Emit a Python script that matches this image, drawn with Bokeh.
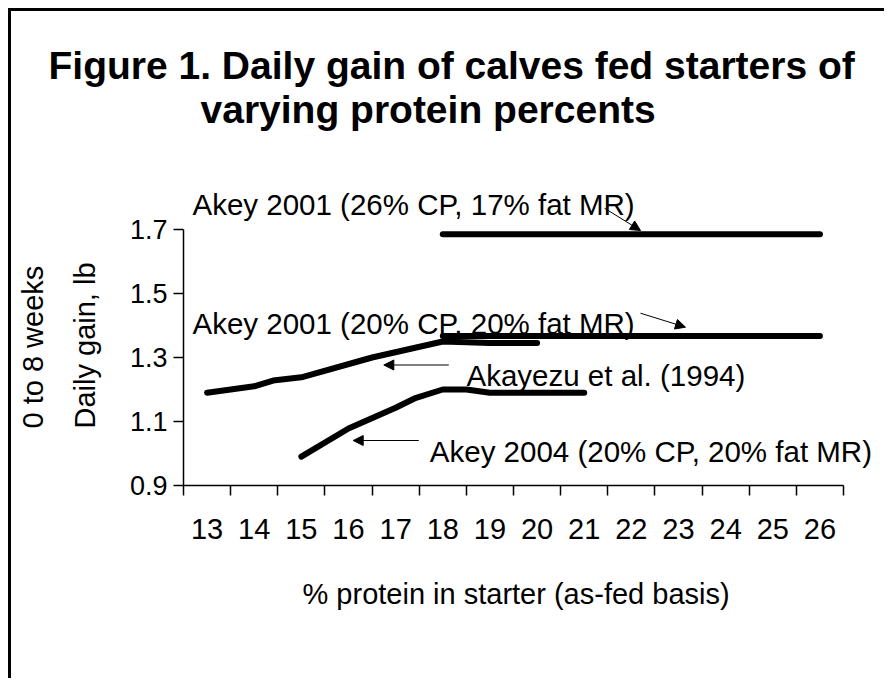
from bokeh.plotting import figure
from bokeh.models import FixedTicker, Label, Arrow, NormalHead, ColumnDataSource, Title
from bokeh.embed import file_html
from bokeh.resources import INLINE

# ---------------- data ----------------
categories = [13, 14, 15, 16, 17, 18, 19, 20, 21, 22, 23, 24, 25, 26]
x_tick_labels = ["13", "14", "15", "16", "17", "18", "19", "20", "21", "22", "23", "24", "25", "26"]
y_ticks = [0.9, 1.1, 1.3, 1.5, 1.7]
y_tick_labels = ["0.9", "1.1", "1.3", "1.5", "1.7"]

akey2001_26_x = [18, 19, 20, 21, 22, 23, 24, 25, 26]
akey2001_26_y = [1.685, 1.685, 1.685, 1.685, 1.685, 1.685, 1.685, 1.685, 1.685]

akey2001_20_x = [18, 19, 20, 21, 22, 23, 24, 25, 26]
akey2001_20_y = [1.367, 1.367, 1.367, 1.367, 1.367, 1.367, 1.367, 1.367, 1.367]

akayezu_x = [13, 14, 14.4, 15, 16.5, 18, 19, 20]
akayezu_y = [1.19, 1.21, 1.228, 1.238, 1.30, 1.35, 1.345, 1.345]

akey2004_x = [15, 16, 17, 17.4, 18, 18.5, 19, 20, 21]
akey2004_y = [0.99, 1.078, 1.143, 1.172, 1.20, 1.20, 1.19, 1.19, 1.19]

series_names = [
    "Akey 2001 (26% CP, 17% fat MR)",
    "Akey 2001 (20% CP, 20% fat MR)",
    "Akayezu et al. (1994)",
    "Akey 2004 (20% CP, 20% fat MR)",
]

title_lines = ["Figure 1. Daily gain of calves fed starters of", "varying protein percents"]
y_title_lines = ["0 to 8 weeks", "Daily gain, lb"]
x_title = "% protein in starter (as-fed basis)"

# ---------------- layout helpers (page px -> data) ----------------
W, H = 876, 670
FL, FT, FB = 172, 129, 474   # frame left / top / bottom in canvas px
OFF = 11                     # margin 8 + border 3
X0, Y0 = 12.5, 0.9
XA1, YA1 = 26.5, 1.7         # axis extents
PXX = 660 / (XA1 - X0)       # px per x unit
PXY = 256 / (YA1 - Y0)       # px per y unit
X1 = X0 + (W - FL) / PXX
Y1 = Y0 + (FB - FT) / PXY


def dx(px):
    return X0 + (px - OFF - FL) / PXX


def dy(py):
    return Y0 + (OFF + FB - py) / PXY


p = figure(width=W, height=H, x_range=(X0, X1), y_range=(Y0, Y1),
           output_backend="svg", toolbar_location=None, title=None,
           min_border_left=FL, min_border_right=0,
           min_border_top=FT, min_border_bottom=H - FB)
p.styles = {"margin-left": "8px", "margin-top": "8px",
            "border-left": "3px solid black", "border-top": "3px solid black"}
p.outline_line_color = None
p.xgrid.visible = False
p.ygrid.visible = False
p.background_fill_color = "white"
p.border_fill_color = "white"

FONT = "Liberation Sans"

# x axis: category style (ticks at boundaries, labels at centers)
xa = p.xaxis[0]
xa.bounds = (X0, XA1)
xa.ticker = FixedTicker(ticks=categories,
                        minor_ticks=[c - 0.5 for c in categories] + [categories[-1] + 0.5])
xa.major_label_overrides = {c: l for c, l in zip(categories, x_tick_labels)}
xa.major_tick_out = 0
xa.major_tick_in = 0
xa.minor_tick_out = 10
xa.minor_tick_in = 0
xa.minor_tick_line_color = "black"
xa.minor_tick_line_width = 1.5
xa.axis_line_color = "black"
xa.axis_line_width = 1.5
xa.major_label_text_font = FONT
xa.major_label_text_font_size = "29px"
xa.major_label_text_color = "black"
xa.major_label_standoff = 23

ya = p.yaxis[0]
ya.bounds = (Y0, YA1)
ya.ticker = FixedTicker(ticks=y_ticks, minor_ticks=[])
ya.major_label_overrides = {t: l for t, l in zip(y_ticks, y_tick_labels)}
ya.major_tick_out = 10
ya.major_tick_in = 0
ya.major_tick_line_color = "black"
ya.major_tick_line_width = 1.5
ya.minor_tick_out = 0
ya.minor_tick_in = 0
ya.axis_line_color = "black"
ya.axis_line_width = 1.5
ya.major_label_text_font = FONT
ya.major_label_text_font_size = "27px"
ya.major_label_text_color = "black"
ya.major_label_standoff = 6

# x-axis title (below the tick labels, starting at x=302 on the page)
p.add_layout(Title(text=x_title, align="left", offset=302 - OFF - FL,
                   standoff=68, text_font=FONT, text_font_size="29px",
                   text_font_style="normal", text_color="black"), "below")

# y-axis titles (two rotated lines on the left, starting 57px above frame bottom)
p.add_layout(Title(text=y_title_lines[1], align="left", offset=57,
                   standoff=52, text_font=FONT, text_font_size="29px",
                   text_font_style="normal", text_color="black"), "left")
p.add_layout(Title(text=y_title_lines[0], align="left", offset=57,
                   standoff=-16, text_font=FONT, text_font_size="29px",
                   text_font_style="normal", text_color="black"), "left")

# chart title (two lines above the frame)
p.add_layout(Title(text=title_lines[1], align="left", offset=17,
                   standoff=20, text_font=FONT, text_font_size="39px",
                   text_font_style="bold", text_color="black"), "above")
p.add_layout(Title(text=title_lines[0], align="left", offset=-135,
                   standoff=-22, text_font=FONT, text_font_size="39px",
                   text_font_style="bold", text_color="black"), "above")

# ---------------- series ----------------
for xs, ys in [(akey2001_26_x, akey2001_26_y), (akey2001_20_x, akey2001_20_y),
               (akayezu_x, akayezu_y), (akey2004_x, akey2004_y)]:
    src = ColumnDataSource(dict(x=xs, y=ys))
    p.line("x", "y", source=src, line_color="black", line_width=6,
           line_cap="round", line_join="round")

# ---------------- annotation texts and arrows ----------------
label_pos = [(192, 204), (192, 322.7), (466, 375), (429.3, 450.7)]
for name, (lx, ly) in zip(series_names, label_pos):
    p.add_layout(Label(x=dx(lx), y=dy(ly), text=name, text_font=FONT,
                       text_font_size="29.5px", text_align="left",
                       text_baseline="alphabetic", text_color="black"))

arrows = [((604, 207.7), (640, 230)), ((640, 312.7), (685, 326.7)),
          ((448.3, 364.5), (383.3, 364.5)), ((418.3, 440), (352.7, 440))]
for (sx, sy), (ex, ey) in arrows:
    p.add_layout(Arrow(end=NormalHead(size=10, fill_color="black", line_color="black"),
                       x_start=dx(sx), y_start=dy(sy), x_end=dx(ex), y_end=dy(ey),
                       line_color="black", line_width=1))

open("out.html", "w").write(file_html(p, INLINE))
